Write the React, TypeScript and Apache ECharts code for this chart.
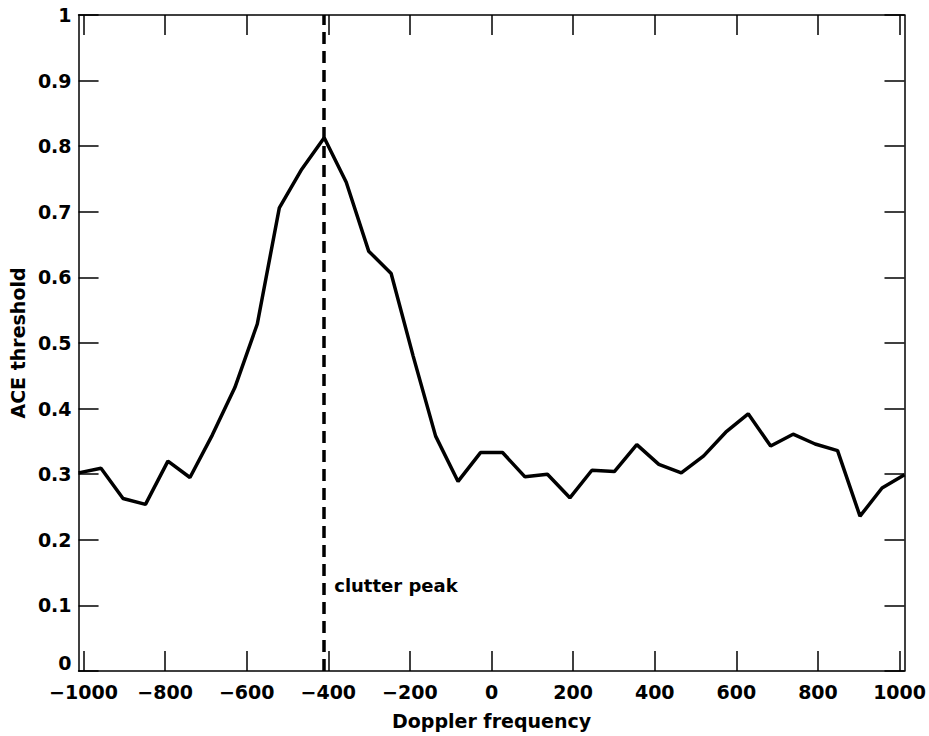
import React, { useEffect, useRef } from "react";
import * as echarts from "echarts";

const frequencies = [
  -1012, -957, -903, -848, -793, -739, -684, -629, -574, -520, -465, -410, -356,
  -301, -246, -192, -137, -82, -27, 27, 82, 137, 192, 246, 301, 356, 410, 465,
  520, 574, 629, 684, 739, 793, 848, 903, 957, 1012,
];
const thresholds = [
  0.302, 0.309, 0.263, 0.254, 0.32, 0.295, 0.36, 0.432, 0.529, 0.706, 0.765,
  0.813, 0.745, 0.64, 0.606, 0.48, 0.358, 0.289, 0.333, 0.333, 0.296, 0.3,
  0.264, 0.306, 0.304, 0.345, 0.315, 0.302, 0.328, 0.364, 0.392, 0.343, 0.361,
  0.346, 0.336, 0.236, 0.279, 0.299,
];
const xTicks = [-1000, -800, -600, -400, -200, 0, 200, 400, 600, 800, 1000];
const clutterPeak = -410;
const clutterLabel = "clutter peak";
const clutterLabelY = 0.131;

const FONT = "DejaVu Sans";

export default function App() {
  const ref = useRef<HTMLDivElement>(null);
  useEffect(() => {
    if (!ref.current) return;
    const chart = echarts.init(ref.current, null, { renderer: "svg" });
    const fmtX = (v: number) => (v < 0 ? "\u2212" + Math.abs(v) : String(v));
    const fmtY = (v: number) => (v === 0 ? "{zero|0}" : String(v));
    const tickStyle = { color: "#000", width: 1.5 };
    const lineStyle = { color: "#000", width: 1.5 };
    const labelFont = {
      color: "#000",
      fontFamily: FONT,
      fontWeight: "bold" as const,
      fontSize: 19,
    };
    chart.setOption({
      animation: false,
      backgroundColor: "#fff",
      grid: { left: 74, top: 15, width: 833, height: 656, containLabel: false },
      xAxis: [
        {
          type: "value",
          position: "bottom",
          min: -1012,
          max: 1012,
          name: "Doppler frequency",
          nameLocation: "middle",
          nameGap: 40,
          nameTextStyle: labelFont,
          axisLine: { show: true, onZero: false, lineStyle },
          axisTick: {
            show: true,
            inside: true,
            length: 20,
            customValues: xTicks,
            lineStyle: tickStyle,
          },
          axisLabel: {
            ...labelFont,
            margin: 11,
            customValues: xTicks,
            formatter: fmtX,
          },
          splitLine: { show: false },
        },
        {
          type: "value",
          position: "top",
          min: -1012,
          max: 1012,
          axisLine: { show: true, onZero: false, lineStyle },
          axisTick: {
            show: true,
            inside: true,
            length: 20,
            customValues: xTicks,
            lineStyle: tickStyle,
          },
          axisLabel: { show: false },
          splitLine: { show: false },
        },
      ],
      yAxis: [
        {
          type: "value",
          position: "left",
          min: 0,
          max: 1,
          interval: 0.1,
          name: "ACE threshold",
          nameLocation: "middle",
          nameGap: 44,
          nameRotate: 90,
          nameTextStyle: labelFont,
          axisLine: { show: true, onZero: false, lineStyle },
          axisTick: { show: true, inside: true, length: 20, lineStyle: tickStyle },
          axisLabel: {
            ...labelFont,
            margin: 7,
            formatter: fmtY,
            rich: {
              zero: { ...labelFont, padding: [0, 0, 16, 0] },
            },
          },
          splitLine: { show: false },
        },
        {
          type: "value",
          position: "right",
          min: 0,
          max: 1,
          interval: 0.1,
          axisLine: { show: true, onZero: false, lineStyle },
          axisTick: { show: true, inside: true, length: 20, lineStyle: tickStyle },
          axisLabel: { show: false },
          splitLine: { show: false },
        },
      ],
      series: [
        {
          type: "line",
          xAxisIndex: 0,
          yAxisIndex: 0,
          data: frequencies.map((f, i) => [f, thresholds[i]]),
          showSymbol: false,
          symbol: "none",
          lineStyle: { color: "#000", width: 3.5 },
          z: 3,
          markLine: {
            silent: true,
            symbol: ["none", "none"],
            label: { show: false },
            lineStyle: { color: "#000", width: 3.5, type: [12, 7] },
            data: [{ xAxis: clutterPeak }],
          },
          markPoint: {
            silent: true,
            symbol: "circle",
            symbolSize: 0,
            label: {
              show: true,
              position: "right",
              distance: 10,
              formatter: clutterLabel,
              ...labelFont,
              fontSize: 18,
            },
            data: [{ coord: [clutterPeak, clutterLabelY], value: 0 }],
          },
        },
      ],
    });
    return () => chart.dispose();
  }, []);
  return (
    <div
      ref={ref}
      style={{ position: "fixed", left: 0, top: 0, width: 929, height: 736 }}
    />
  );
}
